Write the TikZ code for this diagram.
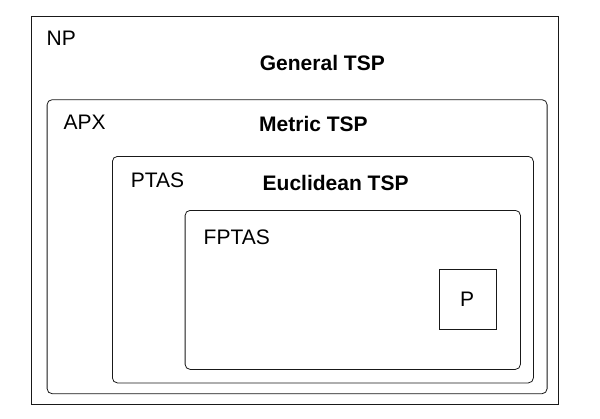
\documentclass[tikz,border=0pt]{standalone}
\usepackage{fontspec}
\setmainfont{Liberation Sans}
\begin{document}
\begin{tikzpicture}[x=1pt,y=-1pt,
  cls/.style={draw=black!90,line width=0.8pt,rounded corners=5pt,inner sep=0pt,anchor=north west},
  sqcls/.style={draw=black!90,line width=0.8pt,inner sep=0pt,anchor=north west},
  lbl/.style={inner sep=0pt,anchor=base west,font=\fontsize{21}{25}\selectfont},
  blbl/.style={inner sep=0pt,anchor=base west,font=\fontsize{21}{25}\selectfont\bfseries}]
\useasboundingbox (0,0) rectangle (600,418);
\node[sqcls,minimum width=526.5pt,minimum height=388.5pt] (np) at (31,15.5) {};
\node[cls,minimum width=500pt,minimum height=294pt] (apx) at (46.7,99.3) {};
\node[cls,minimum width=421pt,minimum height=226.5pt] (ptas) at (112,156) {};
\node[cls,minimum width=335.3pt,minimum height=159pt] (fptas) at (184.7,210) {};
\node[sqcls,minimum width=57.2pt,minimum height=60pt] (p) at (438.5,269) {};
\node[lbl] (npl) at (46.5,45) {NP};
\node[lbl] (apxl) at (63.5,129.3) {APX};
\node[lbl] (ptasl) at (130.7,187.7) {PTAS};
\node[lbl] (fptasl) at (203.5,244.5) {FPTAS};
\node[blbl] (gen) at (259.7,70.7) {General TSP};
\node[blbl] (met) at (259,131.7) {Metric TSP};
\node[blbl] (euc) at (262.5,190.7) {Euclidean TSP};
\node[inner sep=0pt,anchor=base,font=\fontsize{21}{25}\selectfont] (pl) at (467,306) {P};
\end{tikzpicture}
\end{document}
